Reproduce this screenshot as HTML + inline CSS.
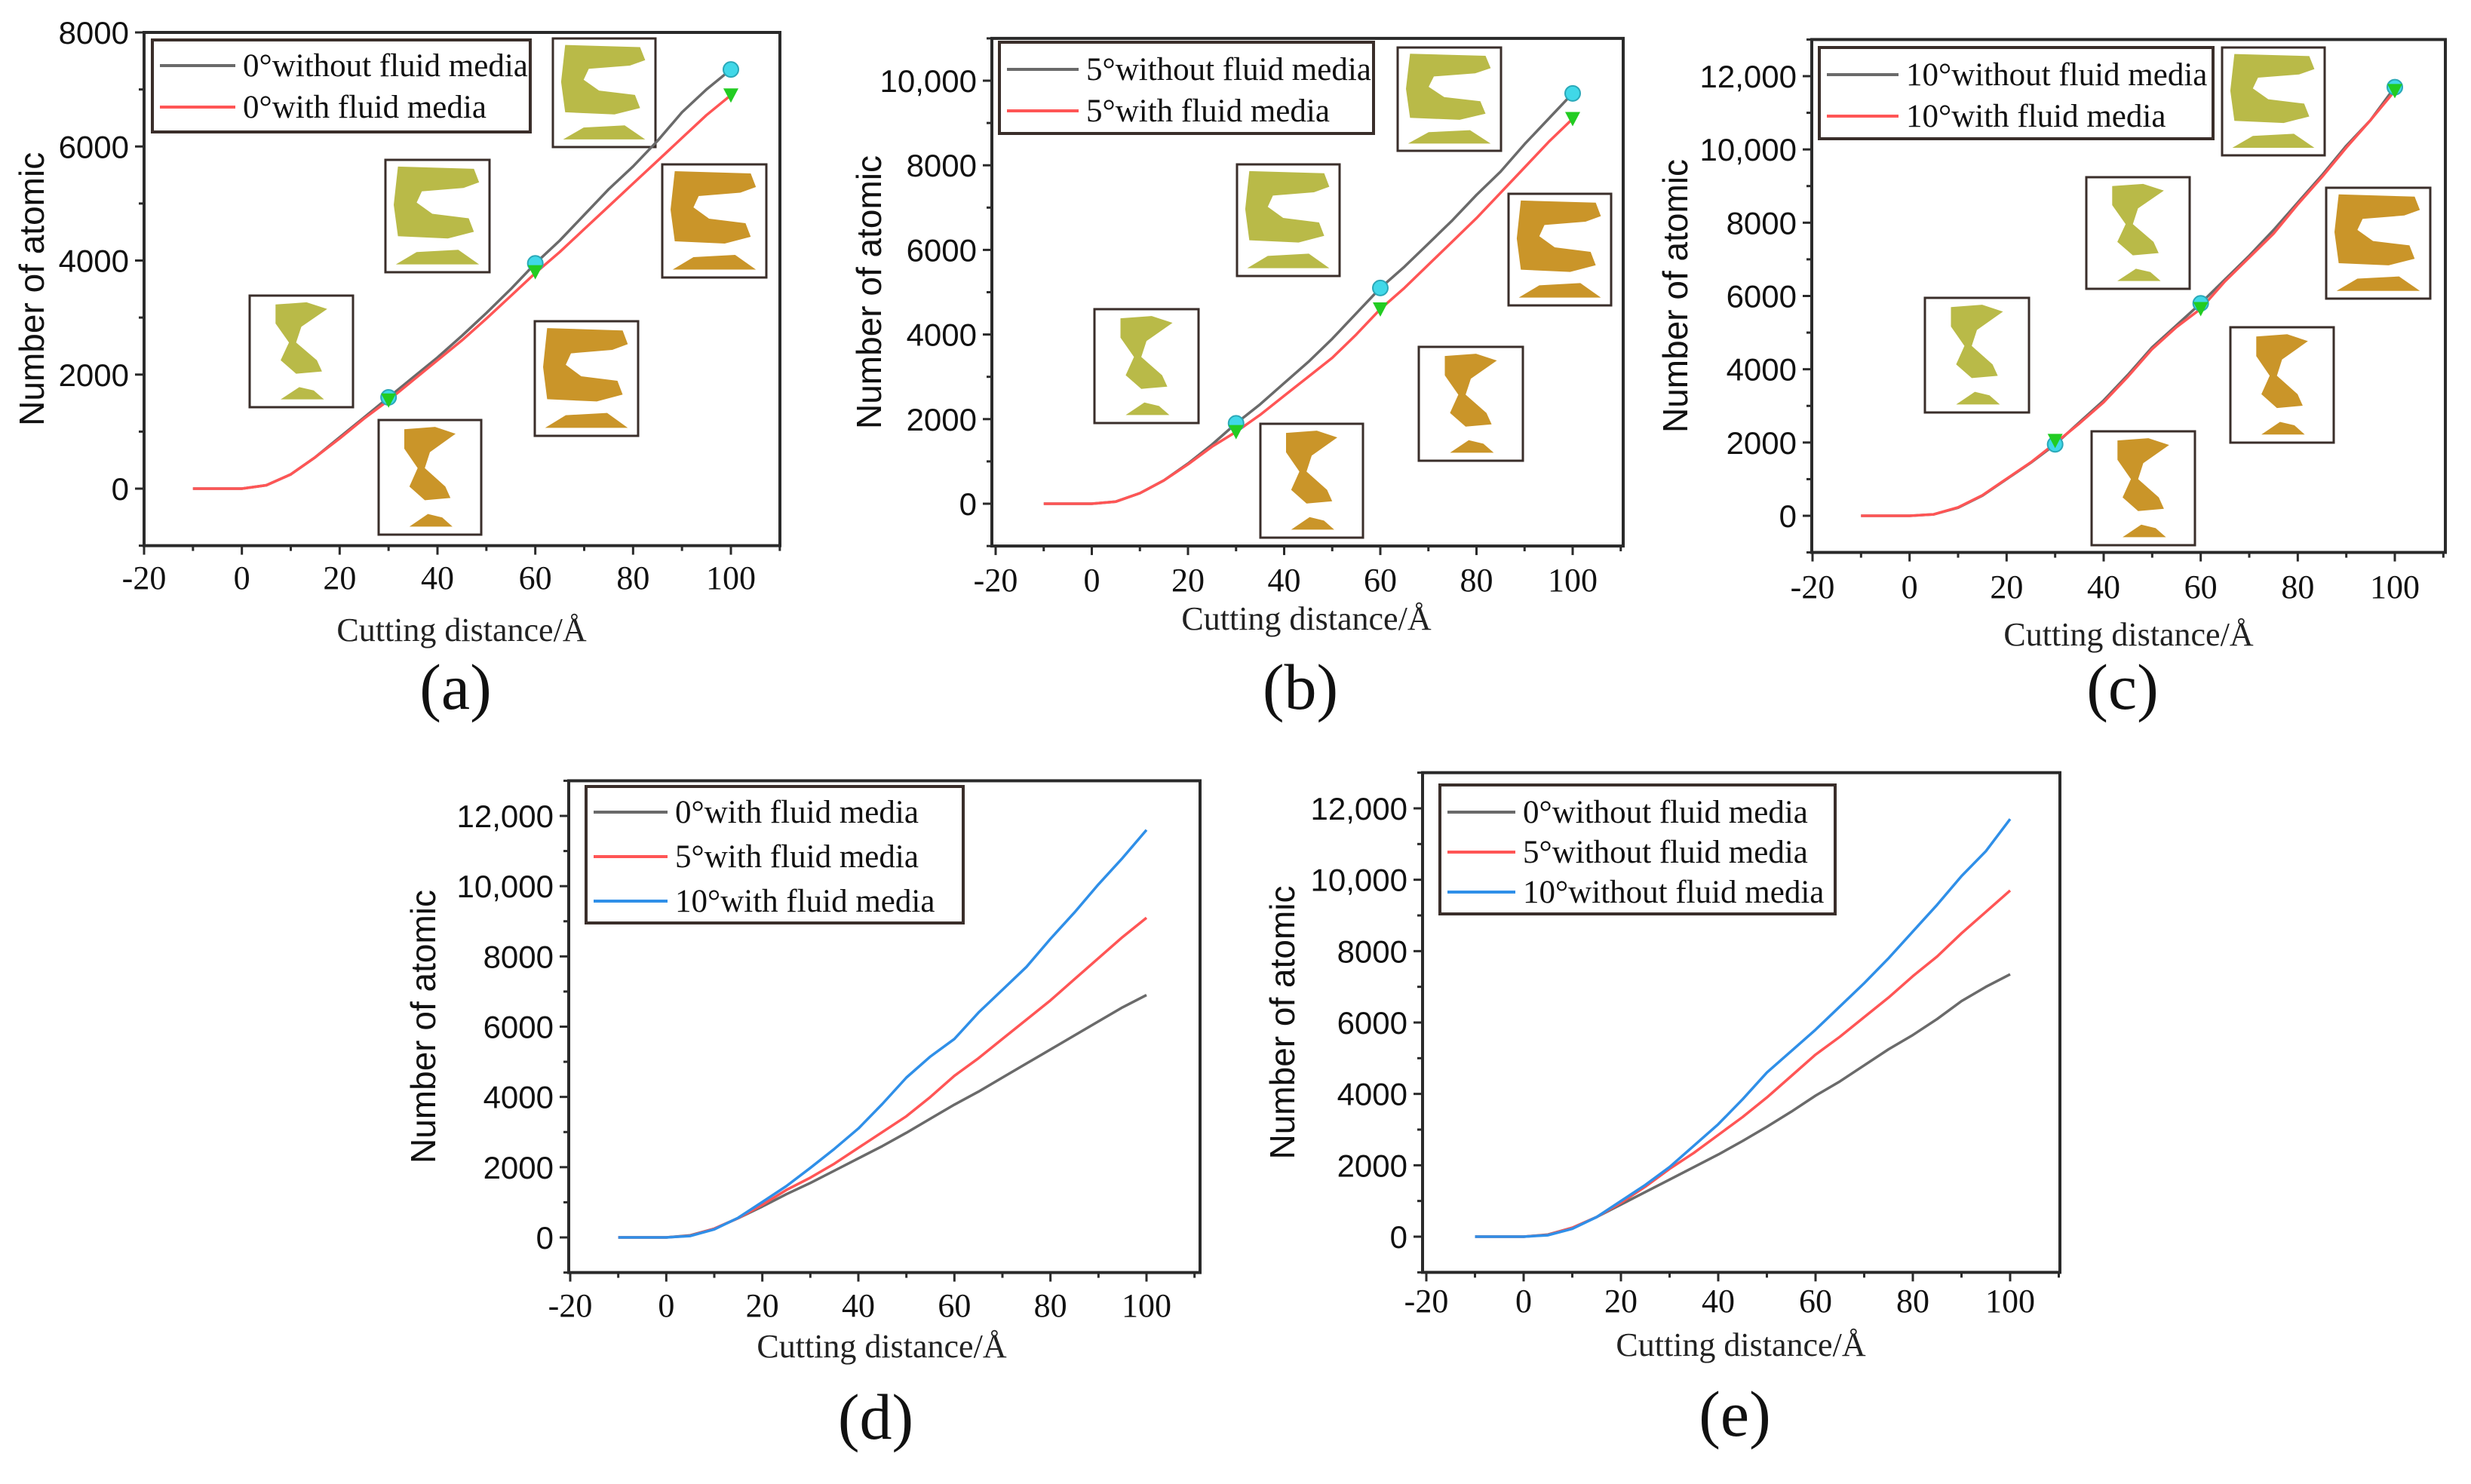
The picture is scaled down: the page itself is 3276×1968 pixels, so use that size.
<!DOCTYPE html>
<html><head><meta charset="utf-8"><style>
html,body{margin:0;padding:0;background:#fff;}
svg{display:block;}
.serif{font-family:"Liberation Serif",serif;}
.sans{font-family:"Liberation Sans",sans-serif;}
</style></head><body>
<svg id="fig" width="3276" height="1968" viewBox="0 0 3276 1968" xmlns="http://www.w3.org/2000/svg"></svg>
<script>
// ---- data (x in Å, y in atom count) ----
const xs = [-10,0,5,10,15,20,25,30,35,40,45,50,55,60,65,70,75,80,85,90,95,100];
const a0Without = [0,0,60,250,550,900,1250,1600,1950,2300,2680,3080,3500,3950,4350,4800,5250,5650,6100,6600,7000,7350];
const a0With    = [0,0,60,250,550,880,1230,1550,1900,2250,2600,2980,3380,3780,4150,4550,4950,5350,5750,6150,6550,6900];
const b5Without = [0,0,50,250,550,950,1400,1900,2350,2850,3350,3900,4500,5100,5600,6150,6700,7300,7850,8500,9100,9700];
const b5With    = [0,0,50,250,550,930,1350,1700,2100,2550,3000,3450,4000,4600,5100,5650,6200,6750,7350,7950,8550,9100];
const c10Without= [0,0,40,220,550,1000,1450,1950,2550,3150,3850,4600,5200,5800,6450,7100,7800,8550,9300,10100,10800,11700];
const c10With   = [0,0,40,230,560,1010,1460,1980,2520,3100,3800,4550,5150,5650,6400,7050,7700,8500,9250,10050,10800,11600];
const xTicks = [-20,0,20,40,60,80,100];
const yTicksA = [0,2000,4000,6000,8000];
const yTicksB = [0,2000,4000,6000,8000,10000];
const yTicksC = [0,2000,4000,6000,8000,10000,12000];
const markX = [30,60,100];
const aCircleY = [1600,3950,7350], aTriY = [1550,3800,6900];
const bCircleY = [1900,5100,9700], bTriY = [1700,4600,9100];
const cCircleY = [1950,5800,11700], cTriY = [2050,5650,11600];

const NS='http://www.w3.org/2000/svg';
const svg=document.getElementById('fig');
function el(tag,attrs,parent,text){const e=document.createElementNS(NS,tag);for(const k in attrs)e.setAttribute(k,attrs[k]);if(text!==undefined)e.textContent=text;(parent||svg).appendChild(e);return e;}
function fmt(v){return v>=10000?String(v).replace(/(\d\d)(\d{3})$/,'$1,$2'):String(v);}

const GREEN='#b1b334', ORANGE='#c48a12';
function inset(g,b,color,shape){
  const [x0,y0,x1,y1]=b, w=x1-x0, h=y1-y0;
  const r=el('rect',{x:x0,y:y0,width:w,height:h,fill:'#fff',stroke:'#3a2e2a','stroke-width':3},g);
  
  
  const P=(pts)=>pts.map(p=>(x0+p[0]*w).toFixed(1)+','+(y0+p[1]*h).toFixed(1)).join(' ');
  let body;
  if(shape==='C'){
    body=[[0.12,0.06],[0.85,0.08],[0.9,0.2],[0.75,0.25],[0.35,0.28],[0.3,0.38],[0.45,0.48],[0.8,0.52],[0.85,0.64],[0.6,0.7],[0.12,0.68],[0.08,0.4]];
  } else {
    body=[[0.25,0.08],[0.55,0.06],[0.75,0.12],[0.5,0.28],[0.45,0.42],[0.65,0.58],[0.7,0.68],[0.45,0.7],[0.3,0.58],[0.38,0.42],[0.25,0.25]];
  }
  el('polygon',{points:P(body),fill:color,opacity:0.9},g);
  const mound = shape==='C' ? [[0.1,0.93],[0.3,0.82],[0.7,0.8],[0.9,0.93]] : [[0.3,0.93],[0.48,0.82],[0.62,0.85],[0.72,0.93]];
  el('polygon',{points:P(mound),fill:color,opacity:0.9},g);
}

function panel(cfg){
  const g=el('g',{},svg);
  
  
  const X=v=>cfg.x0px+(v-(-20))*(cfg.x100px-cfg.x0px)/120;
  const Y=v=>cfg.y0px+(v)*(cfg.ytopPx-cfg.y0px)/cfg.ytopVal;
  const L=cfg.left,R=cfg.right,T=Y(cfg.ymax),B=Y(cfg.ymin);
  const fr=el('rect',{x:L,y:T,width:R-L,height:B-T,fill:'none',stroke:'#2a2a2a','stroke-width':4},g);
  
  
  for(let v=-20;v<=110;v+=10){
    const major=(v%20===0);
    el('line',{x1:X(v),x2:X(v),y1:B,y2:B+(major?12:7),stroke:'#2a2a2a','stroke-width':3},g);
  }
  xTicks.forEach(v=>{
    const t=el('text',{x:X(v),y:cfg.xTickY+16,'text-anchor':'middle','font-size':cfg.fs,class:'serif',fill:'#111'},g,String(v));
    
    
  });
  for(let v=cfg.ymin;v<=cfg.ymax;v+=1000){
    const major=(v%2000===0);
    el('line',{x1:L,x2:L-(major?12:7),y1:Y(v),y2:Y(v),stroke:'#2a2a2a','stroke-width':3},g);
  }
  cfg.yTicks.forEach(v=>{
    const t=el('text',{x:L-20,y:Y(v)+15,'text-anchor':'end','font-size':cfg.fs-2,class:'sans',fill:'#111'},g,fmt(v));
    
    
  });
  const yt=el('text',{x:cfg.yLabelX,y:(T+B)/2,'text-anchor':'middle','font-size':46,class:'sans',fill:'#111',transform:`rotate(-90 ${cfg.yLabelX} ${(T+B)/2})`,'dominant-baseline':'middle'},g,'Number of atomic');
  
  
  const xt=el('text',{x:cfg.xTitleX,y:cfg.xTitleY+15,'text-anchor':'middle','font-size':cfg.fs,class:'serif',fill:'#222'},g,'Cutting distance/Å');
  
  
  const pl=el('text',{x:cfg.xTitleX-8,y:cfg.labelY+28,'text-anchor':'middle','font-size':86,class:'serif',fill:'#111'},g,cfg.label);
  
  
  (cfg.insets||[]).forEach(ins=>inset(g,ins[0],ins[1],ins[2]));
  cfg.series.forEach(s=>{
    const d=xs.map((x,i)=>(i?'L':'M')+X(x).toFixed(1)+','+Y(s.data[i]).toFixed(1)).join(' ');
    const p=el('path',{d:d,fill:'none',stroke:s.color,'stroke-width':3.5,'stroke-linejoin':'round'},g);
    
    
  });
  if(cfg.circ){
    markX.forEach((x,i)=>{
      const c=el('circle',{cx:X(x),cy:Y(cfg.circ[i]),r:10,fill:'#40d8e8',stroke:'#2aa8b8','stroke-width':2},g);
      
      
      const tx=X(x),ty=Y(cfg.tri[i]);
      const t=el('polygon',{points:`${tx-10},${ty-9} ${tx+10},${ty-9} ${tx},${ty+10}`,fill:'#22cc22'},g);
      
      
    });
  }
  const lg=cfg.legend;
  const lgG=el('g',{},g);
  
  
  el('rect',{x:lg.box[0],y:lg.box[1],width:lg.box[2]-lg.box[0],height:lg.box[3]-lg.box[1],fill:'#fff',stroke:'#3a2e2a','stroke-width':4},lgG);
  cfg.series.forEach((s,i)=>{
    const yy=lg.rows[i];
    el('line',{x1:lg.box[0]+10,x2:lg.box[0]+lg.lineLen,y1:yy,y2:yy,stroke:s.color,'stroke-width':4},lgG);
    const t=el('text',{x:lg.box[0]+lg.lineLen+10,y:yy+14,'font-size':lg.fs,class:'serif',fill:'#111'},lgG,s.label);
    
    
  });
}

const GRAY='#6a6a6a', RED='#ff5555', BLUE='#2f8fe8';
panel({name:'panel-a',label:'(a)',left:191,right:1034,x0px:191,x100px:969,y0px:648,ytopPx:43,ytopVal:8000,ymin:-1000,ymax:8000,yTicks:yTicksA,fs:44,
  xTickY:765,xTitleX:612,xTitleY:835,labelY:912,yLabelX:46,
  series:[{id:'line-0deg-without',color:GRAY,data:a0Without,label:'0°without fluid media'},{id:'line-0deg-with',color:RED,data:a0With,label:'0°with fluid media'}],
  circ:aCircleY,tri:aTriY,
  legend:{box:[202,53,703,175],rows:[87,142],lineLen:110,fs:43},
  insets:[[[733,51,869,195],GREEN,'C'],[[511,212,649,361],GREEN,'C'],[[331,392,468,540],GREEN,'H'],[[502,557,638,709],ORANGE,'H'],[[709,426,846,578],ORANGE,'C'],[[878,218,1016,368],ORANGE,'C']]});
panel({name:'panel-b',label:'(b)',left:1315,right:2152,x0px:1320,x100px:2085,y0px:668,ytopPx:107,ytopVal:10000,ymin:-1000,ymax:11000,yTicks:yTicksB,fs:44,
  xTickY:768,xTitleX:1732,xTitleY:820,labelY:912,yLabelX:1156,
  series:[{id:'line-5deg-without',color:GRAY,data:b5Without,label:'5°without fluid media'},{id:'line-5deg-with',color:RED,data:b5With,label:'5°with fluid media'}],
  circ:bCircleY,tri:bTriY,
  legend:{box:[1325,56,1821,177],rows:[92,147],lineLen:105,fs:43},
  insets:[[[1853,63,1990,200],GREEN,'C'],[[1640,218,1776,366],GREEN,'C'],[[1451,410,1589,561],GREEN,'H'],[[1671,562,1807,713],ORANGE,'H'],[[1881,460,2019,611],ORANGE,'H'],[[2000,257,2136,405],ORANGE,'C']]});
panel({name:'panel-c',label:'(c)',left:2402,right:3242,x0px:2403,x100px:3175,y0px:684,ytopPx:101,ytopVal:12000,ymin:-1000,ymax:13000,yTicks:yTicksC,fs:44,
  xTickY:777,xTitleX:2822,xTitleY:841,labelY:912,yLabelX:2225,
  series:[{id:'line-10deg-without',color:GRAY,data:c10Without,label:'10°without fluid media'},{id:'line-10deg-with',color:RED,data:c10With,label:'10°with fluid media'}],
  circ:cCircleY,tri:cTriY,
  legend:{box:[2412,63,2934,184],rows:[99,154],lineLen:105,fs:43},
  insets:[[[2946,63,3082,206],GREEN,'C'],[[2766,235,2903,383],GREEN,'H'],[[2552,395,2690,547],GREEN,'H'],[[2773,572,2910,723],ORANGE,'H'],[[2957,434,3094,587],ORANGE,'H'],[[3084,249,3222,396],ORANGE,'C']]});
panel({name:'panel-d',label:'(d)',left:754,right:1591,x0px:756,x100px:1520,y0px:1641,ytopPx:1082,ytopVal:12000,ymin:-1000,ymax:13000,yTicks:yTicksC,fs:44,
  xTickY:1730,xTitleX:1169,xTitleY:1785,labelY:1880,yLabelX:565,
  series:[{id:'line-0deg-with',color:GRAY,data:a0With,label:'0°with fluid media'},{id:'line-5deg-with',color:RED,data:b5With,label:'5°with fluid media'},{id:'line-10deg-with',color:BLUE,data:c10With,label:'10°with fluid media'}],
  legend:{box:[777,1043,1277,1224],rows:[1077,1136,1195],lineLen:108,fs:43}});
panel({name:'panel-e',label:'(e)',left:1886,right:2731,x0px:1891,x100px:2665,y0px:1640,ytopPx:1072,ytopVal:12000,ymin:-1000,ymax:13000,yTicks:yTicksC,fs:44,
  xTickY:1724,xTitleX:2308,xTitleY:1783,labelY:1876,yLabelX:1704,
  series:[{id:'line-0deg-without',color:GRAY,data:a0Without,label:'0°without fluid media'},{id:'line-5deg-without',color:RED,data:b5Without,label:'5°without fluid media'},{id:'line-10deg-without',color:BLUE,data:c10Without,label:'10°without fluid media'}],
  legend:{box:[1909,1041,2433,1212],rows:[1077,1130,1183],lineLen:100,fs:43}});
</script>
</body></html>
